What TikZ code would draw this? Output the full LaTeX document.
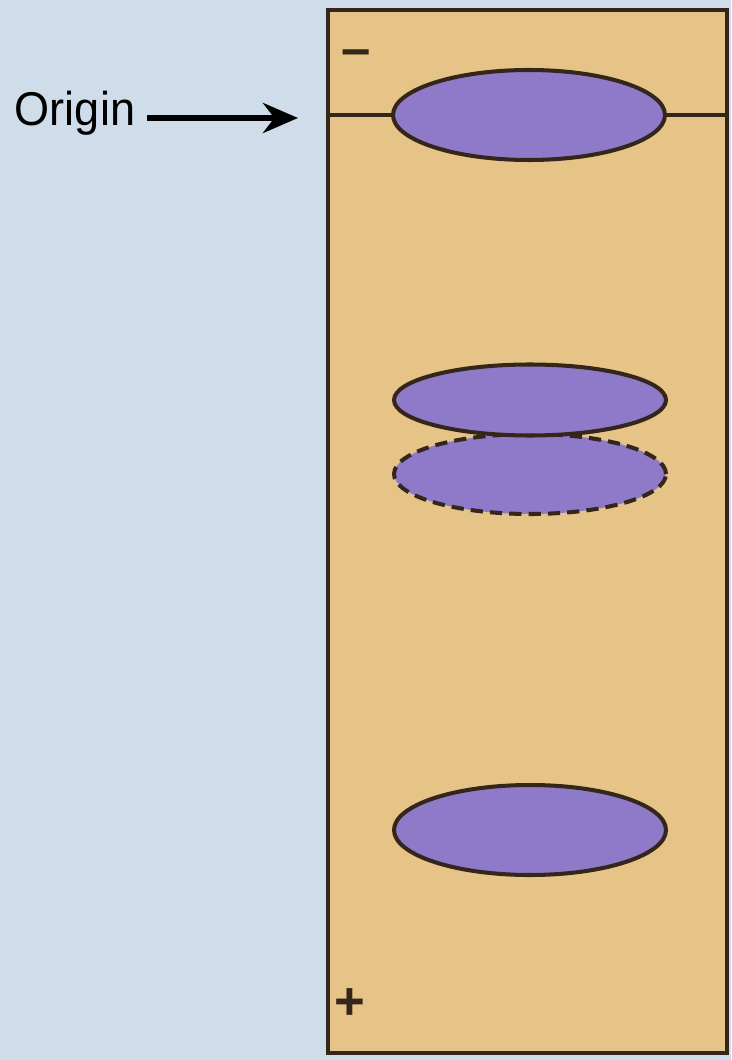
\documentclass[tikz,border=0pt]{standalone}
\usepackage{fontspec}
\setmainfont{Liberation Sans}
\usetikzlibrary{arrows.meta,shapes.geometric}
\definecolor{bgblue}{HTML}{CFDDEB}
\definecolor{geltan}{HTML}{E6C487}
\definecolor{bandpurple}{HTML}{8F7AC9}
\definecolor{edgebrown}{HTML}{35261C}
\tikzset{
  gelbox/.style={draw=edgebrown, fill=geltan, line width=2.4pt, minimum width=7.98cm, minimum height=20.86cm, inner sep=0pt},
  band/.style={ellipse, draw=edgebrown, fill=bandpurple, line width=2.3pt, minimum width=5.44cm, minimum height=1.8cm, inner sep=0pt},
  bandflat/.style={band, minimum height=1.42cm},
  bandghost/.style={band, dashed, dash pattern=on 7pt off 4pt, minimum height=1.6cm},
  sign/.style={font=\bfseries\fontsize{30}{30}\selectfont, text=edgebrown, inner sep=0pt},
  flow/.style={-{Stealth[length=7mm, width=6mm]}, line width=3.4pt},
}

\begin{document}
\begin{tikzpicture}[x=0.02cm, y=-0.02cm]
    \fill[bgblue] (0,0) rectangle (731,1060);
    \useasboundingbox (0,0) rectangle (731,1060);
    \node[gelbox] (gel) at (527.5,531.5) {};
    \coordinate (originL) at (328,115);
    \coordinate (originR) at (727,115);
    \draw[edgebrown, line width=2.4pt] (originL) -- (originR);
    \node[band] (start) at (529,115) {};
    \node[bandghost] (ghost) at (530,474) {};
    \node[bandflat] (mid) at (530,400) {};
    \node[band] (far) at (530,830) {};
    \node[sign] (minus) at (356,58) {–};
    \node[sign] (plus) at (350,1004) {+};
    \node[font=\fontsize{27}{27}\selectfont, inner sep=0pt, xscale=0.95] (label) at (75,113) {Origin};
    \coordinate (tip) at (298,118);
    \draw[flow] (label.east) ++(12,5) coordinate (tail) (tail) -- (tip);
  \end{tikzpicture}
\end{document}
